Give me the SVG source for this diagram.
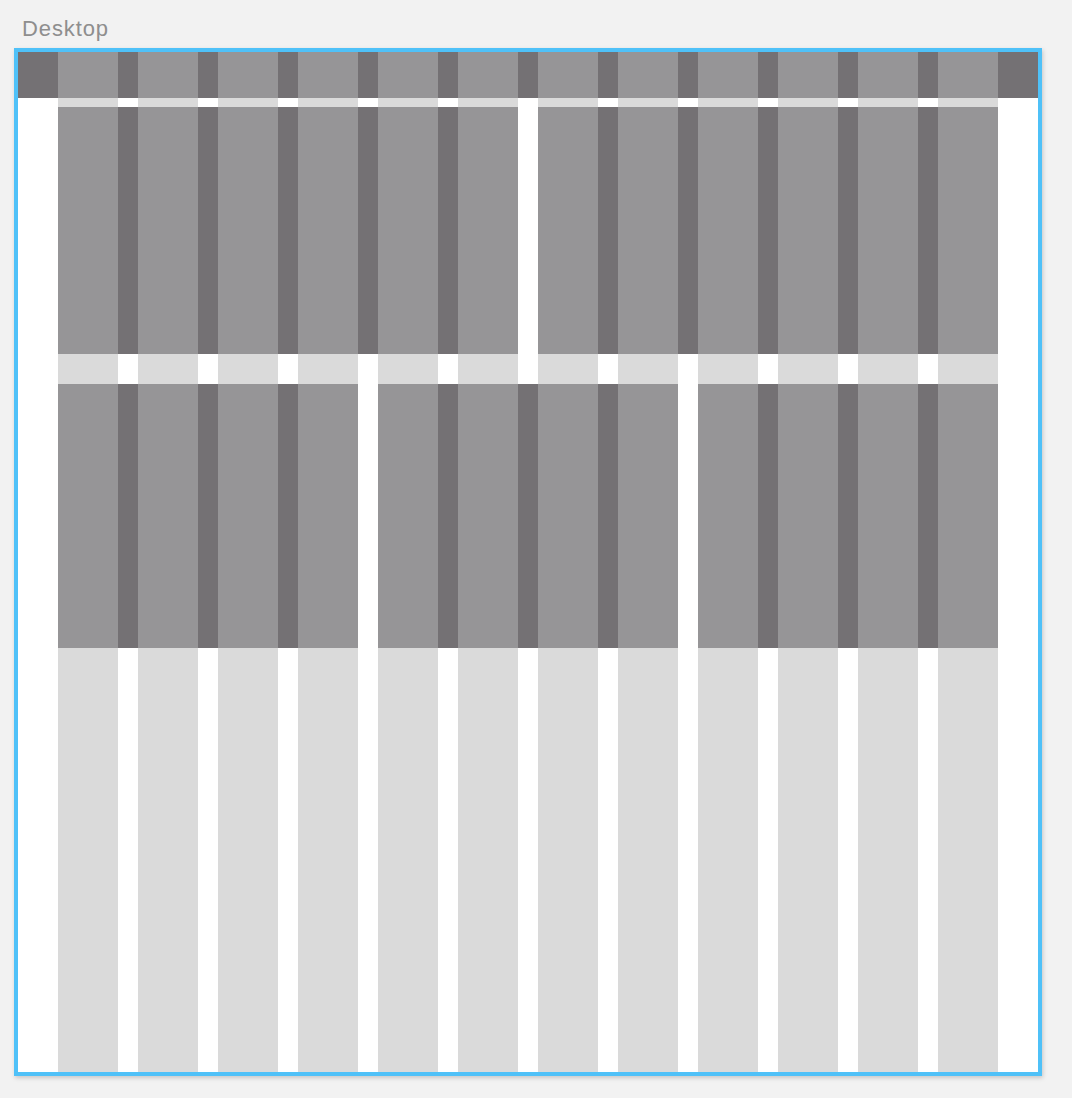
<svg xmlns="http://www.w3.org/2000/svg" width="1072" height="1098" viewBox="0 0 1072 1098">
<style>
.dk{fill:#747174}
.gr{fill:#969597}
.lt{fill:#dadada}
.lbl{font-family:"Liberation Sans",Arial,sans-serif;font-size:22px;fill:#8e8e8e;letter-spacing:0.9px}
</style>
<defs>
<filter id="sh" x="-5%" y="-5%" width="110%" height="110%">
<feDropShadow dx="1" dy="2" stdDeviation="2" flood-color="#000" flood-opacity="0.18"/>
</filter>
<g id="c46"><rect x="58" width="60" height="46"/><rect x="138" width="60" height="46"/><rect x="218" width="60" height="46"/><rect x="298" width="60" height="46"/><rect x="378" width="60" height="46"/><rect x="458" width="60" height="46"/><rect x="538" width="60" height="46"/><rect x="618" width="60" height="46"/><rect x="698" width="60" height="46"/><rect x="778" width="60" height="46"/><rect x="858" width="60" height="46"/><rect x="938" width="60" height="46"/></g>
<g id="c9"><rect x="58" width="60" height="9"/><rect x="138" width="60" height="9"/><rect x="218" width="60" height="9"/><rect x="298" width="60" height="9"/><rect x="378" width="60" height="9"/><rect x="458" width="60" height="9"/><rect x="538" width="60" height="9"/><rect x="618" width="60" height="9"/><rect x="698" width="60" height="9"/><rect x="778" width="60" height="9"/><rect x="858" width="60" height="9"/><rect x="938" width="60" height="9"/></g>
<g id="c247"><rect x="58" width="60" height="247"/><rect x="138" width="60" height="247"/><rect x="218" width="60" height="247"/><rect x="298" width="60" height="247"/><rect x="378" width="60" height="247"/><rect x="458" width="60" height="247"/><rect x="538" width="60" height="247"/><rect x="618" width="60" height="247"/><rect x="698" width="60" height="247"/><rect x="778" width="60" height="247"/><rect x="858" width="60" height="247"/><rect x="938" width="60" height="247"/></g>
<g id="c30"><rect x="58" width="60" height="30"/><rect x="138" width="60" height="30"/><rect x="218" width="60" height="30"/><rect x="298" width="60" height="30"/><rect x="378" width="60" height="30"/><rect x="458" width="60" height="30"/><rect x="538" width="60" height="30"/><rect x="618" width="60" height="30"/><rect x="698" width="60" height="30"/><rect x="778" width="60" height="30"/><rect x="858" width="60" height="30"/><rect x="938" width="60" height="30"/></g>
<g id="c264"><rect x="58" width="60" height="264"/><rect x="138" width="60" height="264"/><rect x="218" width="60" height="264"/><rect x="298" width="60" height="264"/><rect x="378" width="60" height="264"/><rect x="458" width="60" height="264"/><rect x="538" width="60" height="264"/><rect x="618" width="60" height="264"/><rect x="698" width="60" height="264"/><rect x="778" width="60" height="264"/><rect x="858" width="60" height="264"/><rect x="938" width="60" height="264"/></g>
<g id="c424"><rect x="58" width="60" height="424"/><rect x="138" width="60" height="424"/><rect x="218" width="60" height="424"/><rect x="298" width="60" height="424"/><rect x="378" width="60" height="424"/><rect x="458" width="60" height="424"/><rect x="538" width="60" height="424"/><rect x="618" width="60" height="424"/><rect x="698" width="60" height="424"/><rect x="778" width="60" height="424"/><rect x="858" width="60" height="424"/><rect x="938" width="60" height="424"/></g>
</defs>
<rect width="1072" height="1098" fill="#f2f2f2"/>
<text class="lbl" x="22" y="36">Desktop</text>
<g id="frame">
<rect x="14" y="48" width="1028" height="1028" fill="#4fc1f8" filter="url(#sh)"/>
<rect x="18" y="52" width="1020" height="1020" fill="#ffffff"/>
</g>
<g id="header">
<rect class="dk" x="18" y="52" width="1020" height="46"/>
<use href="#c46" class="gr" y="52"/>
<use href="#c9" class="lt" y="98"/>
</g>
<g id="row1">
<rect class="dk" x="58" y="107" width="460" height="247"/>
<rect class="dk" x="538" y="107" width="460" height="247"/>
<use href="#c247" class="gr" y="107"/>
<use href="#c30" class="lt" y="354"/>
</g>
<g id="row2">
<rect class="dk" x="58" y="384" width="300" height="264"/>
<rect class="dk" x="378" y="384" width="300" height="264"/>
<rect class="dk" x="698" y="384" width="300" height="264"/>
<use href="#c264" class="gr" y="384"/>
</g>
<g id="footer">
<use href="#c424" class="lt" y="648"/>
</g>
</svg>
